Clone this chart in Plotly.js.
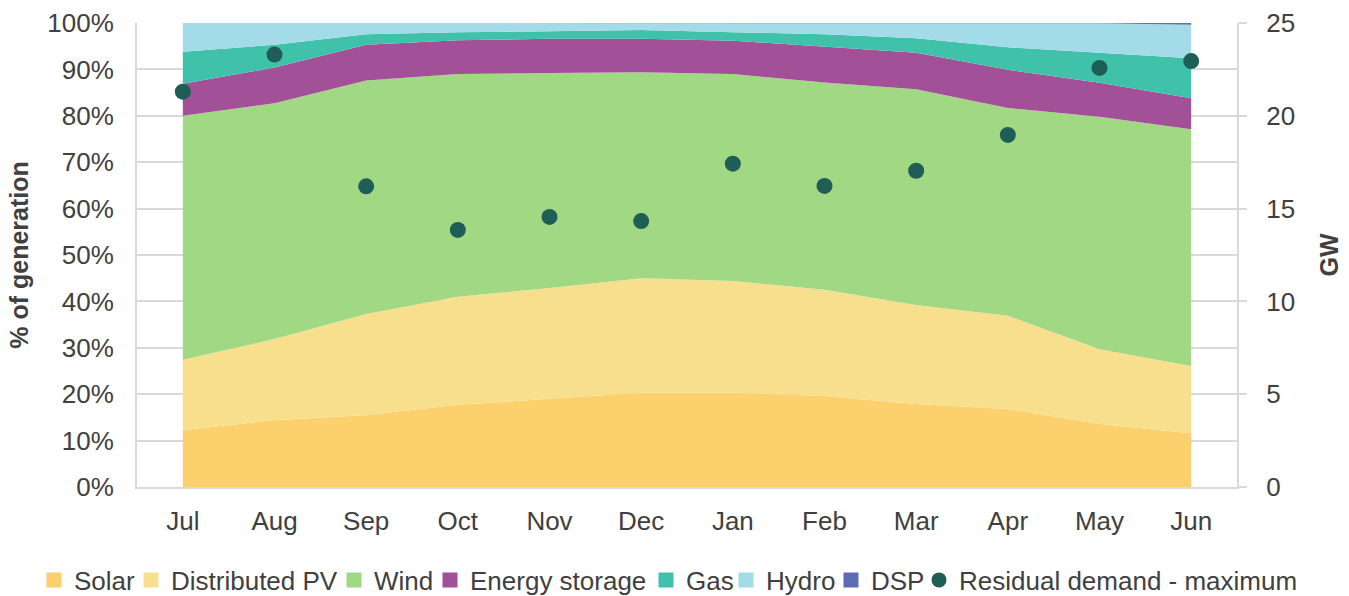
<!DOCTYPE html>
<html>
<head>
<meta charset="utf-8">
<script src="https://cdn.plot.ly/plotly-3.0.1.min.js"></script>
<style>html,body{margin:0;padding:0;background:#fff}#chart{width:1349px;height:596px}</style>
</head>
<body>
<div id="chart"></div>
<script>
// ---- data ----
const months = ['Jul','Aug','Sep','Oct','Nov','Dec','Jan','Feb','Mar','Apr','May','Jun'];
// share of generation, % (stacked bottom to top)
const solar         = [12.3,14.4,15.5,17.7,19.0,20.3,20.3,19.6,17.9,16.8,13.6,11.6];
const distributedPV = [15.1,17.5,21.8,23.3,23.9,24.7,24.1,22.9,21.3,20.1,16.1,14.5];
const wind          = [52.6,50.8,50.3,48.0,46.3,44.4,44.6,44.7,46.5,44.8,50.1,51.0];
const storage       = [6.9,7.7,7.7,7.3,7.4,7.2,7.2,7.7,7.9,8.2,7.3,6.7];
const gas           = [6.9,4.9,2.3,1.7,1.6,1.9,1.8,2.7,3.1,4.9,6.5,8.6];
const hydro         = [6.2,4.7,2.4,2.0,1.8,1.5,2.0,2.4,3.3,5.2,6.35,7.2];
const dsp           = [0,0,0,0,0,0,0,0,0,0,0.05,0.4];
// residual demand - maximum, GW (right axis)
const residualMax   = [21.3,23.3,16.2,13.85,14.55,14.33,17.42,16.22,17.04,18.97,22.58,22.95];
const leftTicks  = [0,10,20,30,40,50,60,70,80,90,100];
const rightTicks = [0,5,10,15,20,25];

// ---- styling ----
const FONT = '"Liberation Sans", Arial, sans-serif';
const TXT = '#404040';
const GRID = '#d9d9d9';

const areaSeries = [
  {name:'Solar', y:solar, color:'#fdd06e'},
  {name:'Distributed PV', y:distributedPV, color:'#f8df8e'},
  {name:'Wind', y:wind, color:'#a1d884'},
  {name:'Energy storage', y:storage, color:'#a25098'},
  {name:'Gas', y:gas, color:'#40c2aa'},
  {name:'Hydro', y:hydro, color:'#a4dbe8'},
  {name:'DSP', y:dsp, color:'#5e6cb4'}
];
const dotColor = '#1e5e56';
// text start x (px) of each legend entry
const legendTextX = [74,171,374,470,686,766,871,959];

const traces = [];
areaSeries.forEach(s => {
  traces.push({
    type:'scatter', mode:'lines', x:months, y:s.y, name:s.name,
    stackgroup:'gen', line:{width:0, color:s.color}, fillcolor:s.color,
    showlegend:false, hoverinfo:'x+y+name'
  });
});
traces.push({
  type:'scatter', mode:'markers', x:months, y:residualMax, yaxis:'y2',
  name:'Residual demand - maximum', marker:{size:16, color:dotColor},
  showlegend:false
});
// legend entries (square keys for areas, dot for the demand series)
areaSeries.forEach((s,i) => {
  traces.push({
    type:'scatter', mode:'markers', x:[null], y:[null], name:s.name,
    marker:{symbol:'square', size:15, color:s.color},
    legend: i===0 ? 'legend' : 'legend'+(i+1), hoverinfo:'skip'
  });
});
traces.push({
  type:'scatter', mode:'markers', x:[null], y:[null], name:'Residual demand - maximum',
  marker:{symbol:'circle', size:15, color:dotColor}, legend:'legend8', hoverinfo:'skip'
});

const W = 1349, H = 596;
const layout = {
  width:W, height:H,
  margin:{l:137, r:112, t:23, b:109},
  paper_bgcolor:'#fff', plot_bgcolor:'#fff',
  font:{family:FONT, size:26, color:TXT},
  showlegend:true,
  xaxis:{
    type:'category', range:[-0.5,11.5], showgrid:false,
    showline:true, linecolor:GRID, linewidth:2,
    ticks:'', ticklabelstandoff:10, tickfont:{size:26, color:TXT}, fixedrange:true
  },
  yaxis:{
    range:[0,100], tickvals:leftTicks, ticktext:leftTicks.map(v=>v+'%'),
    showgrid:true, gridcolor:GRID, gridwidth:2,
    showline:true, linecolor:GRID, linewidth:2, zeroline:false,
    ticks:'', ticklabelstandoff:16, tickfont:{size:26, color:TXT},
    title:{text:'% of generation', font:{size:25, color:TXT, weight:'bold'}, standoff:12},
    automargin:false, fixedrange:true
  },
  yaxis2:{
    overlaying:'y', side:'right', range:[0,25], tickvals:rightTicks,
    showgrid:false, zeroline:false,
    showline:true, linecolor:GRID, linewidth:2,
    ticks:'outside', ticklen:8, tickwidth:2, tickcolor:GRID,
    ticklabelstandoff:14, tickfont:{size:26, color:TXT},
    title:{text:'GW', font:{size:25, color:TXT, weight:'bold'}, standoff:26},
    automargin:false, fixedrange:true
  }
};
const legendBase = {
  orientation:'h', xref:'container', yref:'container', xanchor:'left', yanchor:'middle',
  y:(H-580)/H, bgcolor:'rgba(0,0,0,0)', borderwidth:0,
  font:{family:FONT, size:26, color:TXT}, itemclick:false, itemdoubleclick:false
};
legendTextX.forEach((tx,i) => {
  const key = i===0 ? 'legend' : 'legend'+(i+1);
  layout[key] = Object.assign({}, legendBase, {x:(tx-40)/W});
});

Plotly.newPlot('chart', traces, layout, {displayModeBar:false, responsive:false});
</script>
</body>
</html>
